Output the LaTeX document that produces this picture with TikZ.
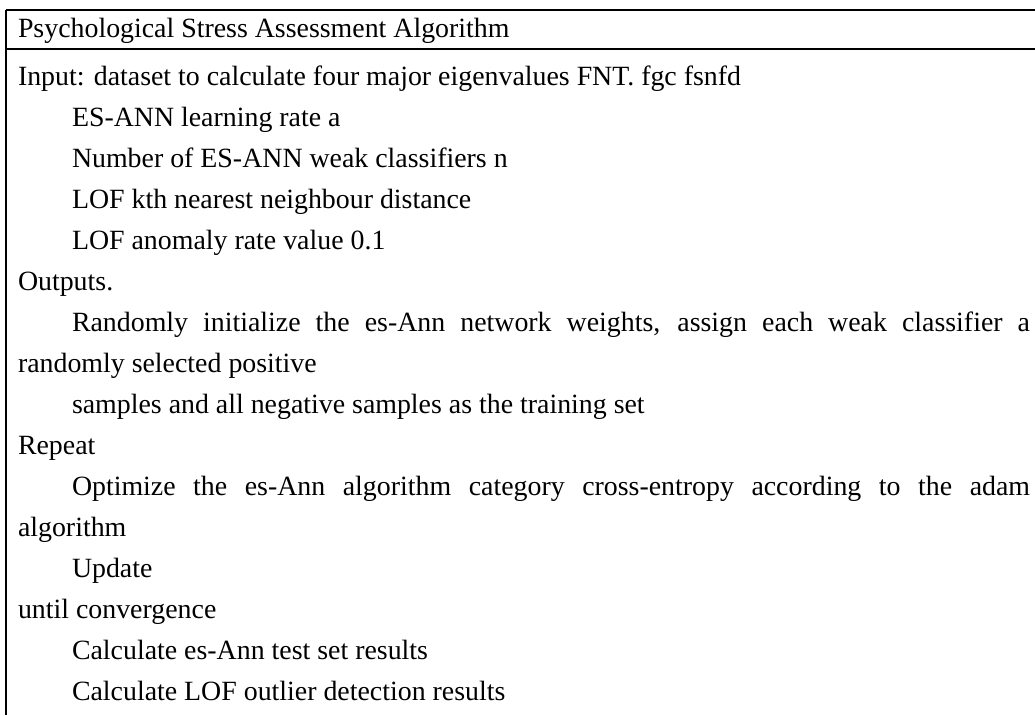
\documentclass[tikz,border=0pt]{standalone}
\usepackage{fontspec}
\setmainfont{Liberation Serif}
\begin{document}
\begin{tikzpicture}[x=0.75pt,y=-0.75pt,
  rule/.style={line width=1.5pt,black},
  txt/.style={anchor=base west,inner sep=0pt,outer sep=0pt,font=\fontsize{20.9}{24}\selectfont}]
\useasboundingbox (0,0) rectangle (1035,715);
\coordinate (tl) at (6,10);
\coordinate (tr) at (1035,10);
\coordinate (ml) at (6,49);
\coordinate (mr) at (1035,49);
\coordinate (bl) at (6,715);
\draw[rule] (tl) -- (tr);
\draw[rule] (ml) -- (mr);
\draw[rule] (tl) -- (bl);
\node[txt] (h) at (18,37) {Psychological Stress Assessment Algorithm};
\node[txt] (l1) at (18,85) {Input: dataset to calculate four major eigenvalues FNT. fgc fsnfd};
\node[txt] (l2) at (72,126) {ES-ANN learning rate a};
\node[txt] (l3) at (72,167) {Number of ES-ANN weak classifiers n};
\node[txt] (l4) at (72,208) {LOF kth nearest neighbour distance};
\node[txt] (l5) at (72,249) {LOF anomaly rate value 0.1};
\node[txt] (l6) at (18,290) {Outputs.};
\node[txt] (l7) at (72,331) {\makebox[718.5pt][s]{Randomly initialize the es-Ann network weights, assign each weak classifier a}};
\node[txt] (l8) at (18,372) {randomly selected positive};
\node[txt] (l9) at (72,413) {samples and all negative samples as the training set};
\node[txt] (l10) at (18,454) {Repeat};
\node[txt] (l11) at (72,495) {\makebox[718.5pt][s]{Optimize the es-Ann algorithm category cross-entropy according to the adam}};
\node[txt] (l12) at (18,536) {algorithm};
\node[txt] (l13) at (72,577) {Update};
\node[txt] (l14) at (18,618) {until convergence};
\node[txt] (l15) at (72,659) {Calculate es-Ann test set results};
\node[txt] (l16) at (72,700) {Calculate LOF outlier detection results};
\end{tikzpicture}
\end{document}
